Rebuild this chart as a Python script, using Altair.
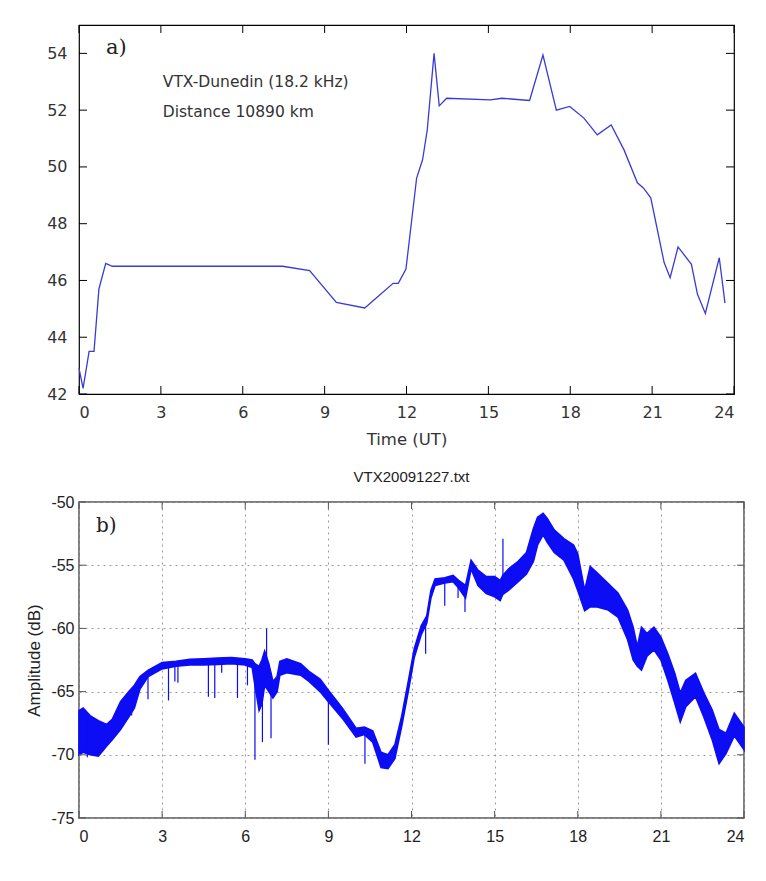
import altair as alt
import pandas as pd

# ---------------- panel a data ----------------
a_hours = [0.0, 0.15, 0.37, 0.55, 0.73, 0.98, 1.22, 7.46, 8.45, 9.43, 10.47, 11.51, 11.7, 11.98,
           12.37, 12.59, 12.76, 13.01, 13.2, 13.47, 15.07, 15.5, 16.51, 17.0, 17.49, 17.98, 18.5,
           18.99, 19.5, 19.97, 20.46, 20.68, 20.95, 21.44, 21.66, 21.95, 22.44, 22.66, 22.95,
           23.46, 23.67]
a_values = [42.9, 42.2, 43.5, 43.5, 45.7, 46.6, 46.5, 46.5, 46.35, 45.23, 45.03, 45.9, 45.9, 46.4,
            49.6, 50.26, 51.3, 54.0, 52.15, 52.42, 52.36, 52.42, 52.34, 53.94, 52.0, 52.13, 51.72,
            51.13, 51.48, 50.6, 49.44, 49.26, 48.91, 46.63, 46.1, 47.18, 46.57, 45.52, 44.84,
            46.8, 45.2]
a_xticks = [0, 3, 6, 9, 12, 15, 18, 21, 24]
a_yticks = [42, 44, 46, 48, 50, 52, 54]
a_label = ["a)"]
a_label_x = [0.99]
a_label_y = [54.2]
a_notes = ["VTX-Dunedin (18.2 kHz)", "Distance 10890 km"]
a_notes_x = [3.07, 3.07]
a_notes_y = [53.0, 51.95]

# ---------------- panel b data ----------------
b_hours = [0.0, 0.15, 0.4, 0.7, 1.0, 1.2, 1.5, 1.8, 2.0, 2.2, 2.5, 3.0, 3.5, 4.0, 4.5, 5.0, 5.5,
           6.0, 6.25, 6.35, 6.5, 6.6, 6.7, 6.85, 7.0, 7.15, 7.25, 7.5, 8.0, 8.3, 8.7, 9.0, 9.5,
           10.0, 10.3, 10.6, 10.9, 11.15, 11.4, 11.65, 11.9, 12.1, 12.35, 12.55, 12.7, 12.85,
           13.2, 13.5, 13.7, 13.95, 14.15, 14.4, 14.7, 15.0, 15.2, 15.3, 15.5, 15.85, 16.15,
           16.4, 16.55, 16.75, 16.9, 17.15, 17.5, 17.85, 18.0, 18.25, 18.45, 18.7, 19.1, 19.45,
           19.8, 20.0, 20.15, 20.3, 20.5, 20.75, 21.0, 21.25, 21.5, 21.7, 21.9, 22.25, 22.55,
           22.85, 23.1, 23.35, 23.65, 24.0]
b_upper = [-66.5, -66.3, -66.9, -67.3, -67.6, -67.2, -65.8, -65.0, -64.5, -63.8, -63.3, -62.7,
           -62.6, -62.45, -62.4, -62.35, -62.3, -62.4, -62.5, -62.8, -63.0, -62.5, -61.8, -62.8,
           -64.2, -63.8, -62.6, -62.4, -62.8, -63.4, -64.0, -64.9, -66.3, -67.9, -67.8, -68.1,
           -69.8, -70.0, -69.2, -66.9, -64.0, -61.6, -59.8, -59.0, -57.0, -56.1, -56.0, -55.8,
           -56.2, -56.6, -54.6, -55.4, -55.9, -55.9, -56.2, -55.8, -55.3, -54.7, -54.0, -52.1,
           -51.2, -50.9, -51.3, -52.2, -52.9, -53.4, -54.1, -57.0, -55.1, -55.6, -56.45, -57.2,
           -58.55, -59.9, -61.45, -59.9, -60.4, -59.9, -60.7, -62.0, -63.55, -65.1, -64.1,
           -63.55, -65.1, -66.45, -68.0, -68.3, -66.7, -67.8]
b_lower = [-70.0, -69.8, -70.0, -70.1, -69.3, -68.8, -68.0, -67.0, -66.3, -64.8, -63.8, -63.2,
           -63.0, -62.9, -62.9, -62.85, -62.8, -62.9, -63.1, -64.5, -66.5, -66.0, -64.5, -65.0,
           -65.5, -65.0, -63.7, -63.5, -63.7, -64.2, -65.0, -65.8, -67.1, -68.6, -68.4, -69.0,
           -71.0, -71.1, -70.3, -67.7, -64.8, -62.3, -60.5, -59.6, -57.6, -56.6, -56.4, -56.3,
           -56.8, -57.6, -55.3, -56.6, -57.25, -57.5, -57.8, -57.3, -57.0, -56.3, -55.7, -54.7,
           -53.4, -52.6, -53.2, -54.0, -54.6, -56.1, -57.0, -58.6, -58.3, -58.3, -58.55, -59.1,
           -60.9, -62.5, -63.0, -63.3, -62.2, -61.7, -62.5, -64.1, -65.9, -67.4, -66.2, -65.4,
           -67.0, -68.8, -70.7, -69.9, -68.5, -69.6]
spike_hours = [0.3, 1.9, 2.49, 3.23, 3.46, 3.57, 4.67, 4.9, 5.15, 5.72, 6.08, 6.35, 6.62, 6.77,
               6.93, 9.0, 10.32, 12.51, 13.2, 13.68, 13.93, 15.3]
spike_start = [-67.0, -65.0, -63.4, -62.9, -62.9, -62.9, -62.8, -62.8, -62.8, -62.8, -62.9, -63.0,
               -63.5, -63.0, -63.5, -65.3, -68.0, -59.4, -56.2, -56.5, -57.0, -57.0]
spike_end = [-70.2, -66.9, -65.6, -65.7, -64.2, -64.3, -65.4, -65.5, -63.5, -65.5, -64.5, -70.4,
             -69.0, -60.0, -68.7, -69.2, -70.7, -62.0, -58.2, -57.6, -58.7, -52.9]
b_xticks = [0, 3, 6, 9, 12, 15, 18, 21, 24]
b_yticks = [-75, -70, -65, -60, -55, -50]
b_label = ["b)"]
b_label_x = [0.61]
b_label_y = [-51.9]

# ---------------- frames (same field names in every layer of a panel) ----------------
df_a = pd.DataFrame({"hour": a_hours, "value": a_values})
df_axt = pd.DataFrame({"hour": a_xticks})
df_ayt = pd.DataFrame({"value": a_yticks})
df_alab = pd.DataFrame({"hour": a_label_x, "value": a_label_y, "txt": a_label})
df_anote = pd.DataFrame({"hour": a_notes_x, "value": a_notes_y, "txt": a_notes})

df_b = pd.DataFrame({"hour": b_hours, "upper": b_upper, "lower": b_lower})
df_spk = pd.DataFrame({"hour": spike_hours, "upper": spike_start, "lower": spike_end})
df_bxt = pd.DataFrame({"hour": b_xticks})
df_byt = pd.DataFrame({"upper": b_yticks})
df_blab = pd.DataFrame({"hour": b_label_x, "upper": b_label_y, "txt": b_label})

WA, HA = 655, 369
WB, HB = 665, 316
TK_A = 8
TK_B = 7

# ---------------- panel a ----------------
FA = "DejaVu Sans"
xa_scale = alt.Scale(domain=[0, 24], nice=False, zero=False)
ya_scale = alt.Scale(domain=[42, 55], nice=False, zero=False)
xa_axis = alt.Axis(values=a_xticks, title="Time (UT)", ticks=False, tickSize=0, domain=False, grid=False,
                   labelFont=FA, labelFontSize=16, labelColor="#333", labelPadding=10,
                   titleFont=FA, titleFontSize=16.5, titleFontWeight="normal", titleColor="#333",
                   titlePadding=11)
ya_axis = alt.Axis(values=a_yticks, title=None, ticks=False, tickSize=0, domain=False, grid=False,
                   labelFont=FA, labelFontSize=16, labelColor="#333", labelPadding=12)
XA = alt.X("hour:Q", scale=xa_scale, axis=xa_axis)
YA = alt.Y("value:Q", scale=ya_scale, axis=ya_axis)

a_line = alt.Chart(df_a).mark_line(color="#3a3ad6", strokeWidth=1.3).encode(x=XA, y=YA)
a_tick_top = alt.Chart(df_axt).mark_rule(color="black", strokeWidth=1).encode(
    x=XA, y=alt.value(0), y2=alt.value(TK_A))
a_tick_bot = alt.Chart(df_axt).mark_rule(color="black", strokeWidth=1).encode(
    x=XA, y=alt.value(HA - TK_A), y2=alt.value(HA))
a_tick_left = alt.Chart(df_ayt).mark_rule(color="black", strokeWidth=1).encode(
    y=YA, x=alt.value(0), x2=alt.value(TK_A))
a_tick_right = alt.Chart(df_ayt).mark_rule(color="black", strokeWidth=1).encode(
    y=YA, x=alt.value(WA - TK_A), x2=alt.value(WA))
a_lab = alt.Chart(df_alab).mark_text(align="left", baseline="middle", font="DejaVu Serif",
                                     fontSize=21, color="#222").encode(x=XA, y=YA, text="txt:N")
a_note = alt.Chart(df_anote).mark_text(align="left", baseline="middle", font=FA,
                                       fontSize=15.5, color="#333").encode(x=XA, y=YA, text="txt:N")

panel_a = alt.layer(a_line, a_tick_top, a_tick_bot, a_tick_left, a_tick_right, a_lab, a_note).properties(
    width=WA, height=HA, view=alt.ViewBackground(stroke="black", strokeWidth=1.2, fill="white"))

# ---------------- panel b ----------------
FB = "Liberation Sans"
BLUE = "#0c0cf5"
xb_scale = alt.Scale(domain=[0, 24], nice=False, zero=False)
yb_scale = alt.Scale(domain=[-75, -50], nice=False, zero=False)
xb_axis = alt.Axis(values=b_xticks, title=None, ticks=False, tickSize=0, domain=False,
                   labelFont=FB, labelFontSize=16, labelColor="#222", labelPadding=10,
                   grid=True, gridDash=[2, 4], gridColor="#9a9a9a", gridWidth=1)
yb_axis = alt.Axis(values=b_yticks, title="Amplitude (dB)", ticks=False, tickSize=0, domain=False,
                   labelFont=FB, labelFontSize=16, labelColor="#222", labelPadding=5,
                   labelExpr="datum.value < 0 ? '-' + abs(datum.value) : '' + datum.value",
                   titleFont=FB, titleFontSize=17, titleFontWeight="normal", titleColor="#222",
                   titlePadding=7,
                   grid=True, gridDash=[2, 4], gridColor="#9a9a9a", gridWidth=1)
XB = alt.X("hour:Q", scale=xb_scale, axis=xb_axis)
YB = alt.Y("upper:Q", scale=yb_scale, axis=yb_axis)

b_band = alt.Chart(df_b).mark_area(color=BLUE, stroke=BLUE, strokeWidth=1.6, opacity=1).encode(
    x=XB, y=YB, y2="lower:Q")
b_spikes = alt.Chart(df_spk).mark_rule(color=BLUE, strokeWidth=1.2).encode(x=XB, y=YB, y2="lower:Q")
b_tick_top = alt.Chart(df_bxt).mark_rule(color="#555", strokeWidth=1).encode(
    x=XB, y=alt.value(0), y2=alt.value(TK_B))
b_tick_bot = alt.Chart(df_bxt).mark_rule(color="#555", strokeWidth=1).encode(
    x=XB, y=alt.value(HB - TK_B), y2=alt.value(HB))
b_tick_left = alt.Chart(df_byt).mark_rule(color="#555", strokeWidth=1).encode(
    y=YB, x=alt.value(0), x2=alt.value(TK_B))
b_tick_right = alt.Chart(df_byt).mark_rule(color="#555", strokeWidth=1).encode(
    y=YB, x=alt.value(WB - TK_B), x2=alt.value(WB))
b_lab = alt.Chart(df_blab).mark_text(align="left", baseline="middle", font="DejaVu Serif",
                                     fontSize=20, color="#222").encode(x=XB, y=YB, text="txt:N")

panel_b = alt.layer(b_band, b_spikes, b_tick_top, b_tick_bot, b_tick_left, b_tick_right, b_lab).properties(
    width=WB, height=HB,
    title=alt.TitleParams("VTX20091227.txt", font=FB, fontSize=15, fontWeight="normal",
                          color="#222", offset=9, anchor="middle"),
    view=alt.ViewBackground(stroke="#555", strokeWidth=1.5, fill="white"))

chart = alt.vconcat(panel_a, panel_b, spacing=108, bounds="flush").properties(
    padding={"left": 25, "top": 23, "right": 5, "bottom": 5},
    background="white",
)

chart.save("out.html", embed_options={"renderer": "svg", "actions": False})
